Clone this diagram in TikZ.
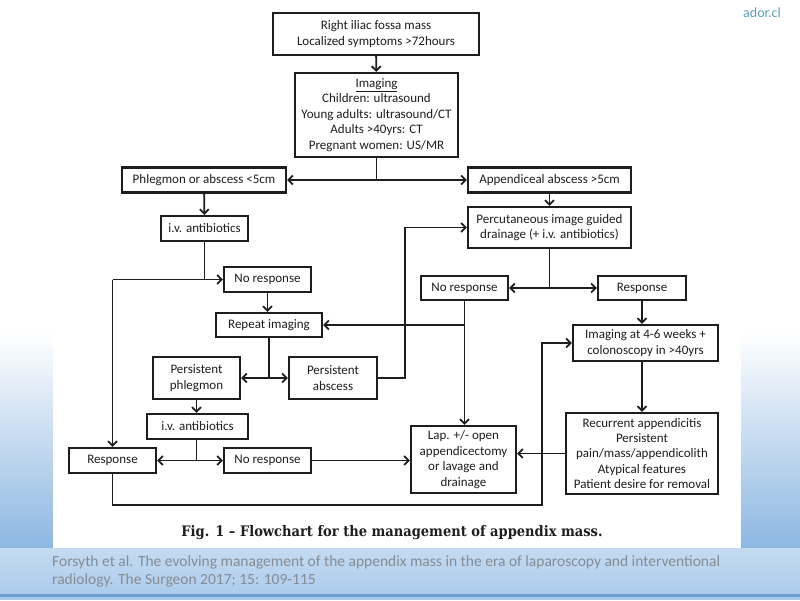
\documentclass[tikz,border=0pt]{standalone}
\usepackage{fontspec}
\setmainfont{Carlito}
\newfontfamily\capfont{DejaVu Serif Condensed}
\usetikzlibrary{arrows.meta}
\definecolor{ink}{HTML}{1E1E1E}
\definecolor{bgblue}{HTML}{8DB8E2}
\definecolor{bandblue}{HTML}{A9CAEB}
\definecolor{lineblue}{HTML}{6E9FD2}
\definecolor{citegray}{HTML}{858C94}
\definecolor{teal}{HTML}{5A9FB8}
\tikzset{
  box/.style={draw=ink, line width=2.1pt, fill=white, align=center, text=ink,
    font=\fontsize{13}{15.4}\selectfont, inner sep=0pt},
  conn/.style={draw=ink, line width=1.8pt},
  arr/.style={conn, -{Straight Barb[length=4.5pt,width=9pt]}},
}
\begin{document}
\begin{tikzpicture}[x=1pt,y=-1pt]
\useasboundingbox (0,0) rectangle (800,600);
% background: white top, stepped blue gradient towards the bottom
\fill[white] (0,0) rectangle (800,600);
\foreach \i in {0,...,43} {
  \pgfmathsetmacro{\pct}{\i*100/43}
  \fill[bgblue!\pct!white] (0,330+\i*5) rectangle (800,336+\i*5);
}
\foreach \i in {0,...,9} {
  \pgfmathsetmacro{\pct}{70+\i*3}
  \fill[bandblue!\pct!white] (0,548+\i*5) rectangle (800,554+\i*5);
}
\fill[lineblue] (0,594) rectangle (800,597);
\fill[bandblue] (0,597) rectangle (800,600);
\fill[white] (53,0) rectangle (741,548);
\node[font=\fontsize{14}{16}\selectfont, text=teal] (site) at (762,13) {ador.cl};
\node[font=\fontsize{15.5}{18}\selectfont, text=citegray, align=left, anchor=north west, inner sep=0pt] (cite) at (52,556)
  {Forsyth et al. The evolving management of the appendix mass in the era of laparoscopy and interventional\\radiology. The Surgeon 2017; 15: 109-115};
\node[font=\capfont\bfseries\fontsize{14.5}{17}\selectfont, text=ink] (cap) at (392,533)
  {Fig. 1 \textendash\ Flowchart for the management of appendix mass.};

% nodes
\node[box, minimum width=206, minimum height=42] (top) at (376,34) {Right iliac fossa mass\\Localized symptoms >72hours};
\node[box, minimum width=163, minimum height=84] (img) at (376.5,115) {\underline{Imaging}\\Children: ultrasound\\Young adults: ultrasound/CT\\Adults >40yrs: CT\\Pregnant women: US/MR};
\node[box, minimum width=164, minimum height=25] (phl) at (204,180) {Phlegmon or abscess <5cm};
\node[box, minimum width=163, minimum height=25] (app) at (549.5,180) {Appendiceal abscess >5cm};
\node[box, minimum width=87, minimum height=25] (iv1) at (204.5,228.5) {i.v. antibiotics};
\node[box, minimum width=163, minimum height=41] (perc) at (549.5,227.5) {Percutaneous image guided\\drainage (+ i.v. antibiotics)};
\node[box, minimum width=87, minimum height=25] (nr1) at (267.5,279.5) {No response};
\node[box, minimum width=87, minimum height=24] (nrR) at (464.5,288) {No response};
\node[box, minimum width=88, minimum height=24] (respR) at (642,288) {Response};
\node[box, minimum width=106, minimum height=24] (rep) at (269,325) {Repeat imaging};
\node[box, minimum width=145, minimum height=36] (img46) at (645.5,343) {Imaging at 4-6 weeks +\\colonoscopy in >40yrs};
\node[box, minimum width=87, minimum height=42] (pphl) at (196.5,378) {Persistent\\phlegmon};
\node[box, minimum width=88, minimum height=42] (pabs) at (333,378) {Persistent\\abscess};
\node[box, minimum width=101, minimum height=25] (iv2) at (197.5,426.5) {i.v. antibiotics};
\node[box, minimum width=87, minimum height=25] (resp) at (112.5,460.5) {Response};
\node[box, minimum width=87, minimum height=25] (nr2) at (267.5,460.5) {No response};
\node[box, minimum width=105, minimum height=67] (lap) at (463.5,459.5) {Lap. +/- open\\appendicectomy\\or lavage and\\drainage};
\node[box, minimum width=152, minimum height=81] (rec) at (642,453.5) {Recurrent appendicitis\\Persistent\\pain/mass/appendicolith\\Atypical features\\Patient desire for removal};

\coordinate (j1) at (112.5,279.5);
\coordinate (kx) at (405,0);
\coordinate (by) at (0,505);
\coordinate (bx) at (542,0);

% connectors
\draw[arr] (top) -- (img);
\draw[arr] (img.south) |- (phl.east);
\draw[arr] (img.south) |- (app.west);
\draw[arr] (phl) -- (iv1);
\draw[arr] (iv1.south) |- (nr1.west);
\draw[conn] (j1) -- (iv1.south |- j1);
\draw[arr] (j1) -- (resp.north);
\draw[arr] (nr1.south) -- (rep.north -| nr1.south);
\draw[arr] (nrR.south) -- (lap.north -| nrR.south);
\draw[arr] (nrR.south |- rep.east) -- (rep.east);
\draw[arr] (rep.south) |- (pphl.east);
\draw[arr] (rep.south) |- (pabs.west);
\draw[arr] (pabs.east) -- (pabs.east -| kx) -- (kx |- perc.west) -- (perc.west);
\draw[arr] (pphl.south) -- (iv2.north -| pphl.south);
\draw[arr] (iv2.south -| pphl.south) |- (resp.east);
\draw[arr] (iv2.south -| pphl.south) |- (nr2.west);
\draw[arr] (nr2.east) -- (lap.west |- nr2.east);
\draw[arr] (resp.south) -- (resp.south |- by) -- (bx |- by) -- (bx |- img46.west) -- (img46.west);
\draw[arr] (app) -- (perc);
\draw[arr] (perc.south) |- (nrR.east);
\draw[arr] (perc.south) |- (respR.west);
\draw[arr] (respR) -- (img46.north -| respR);
\draw[arr] (img46.south -| respR) -- (rec.north);
\draw[arr] (rec.west) -- (lap.east |- rec.west);
\end{tikzpicture}
\end{document}
